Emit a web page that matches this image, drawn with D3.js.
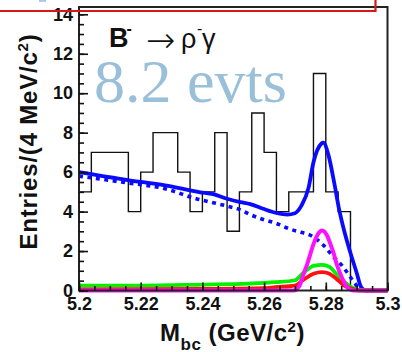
<!DOCTYPE html>
<html>
<head>
<meta charset="utf-8">
<script src="https://cdn.jsdelivr.net/npm/d3@7/dist/d3.min.js"></script>
<style>
html,body{margin:0;padding:0;background:#fff;}
svg{display:block;}
</style>
</head>
<body>
<svg id="c" width="402" height="352"></svg>
<script>
// ---------------- data ----------------
const binStart = 5.2;
const binWidth = 0.004;
const histCounts = [5,7,7,7,4,6,8,8,6,4,5,8,3,5,9,7,4,5,5,11,5,4,0,0,0];

const totalFit = [
  [5.2000,6.00],[5.2158,5.60],[5.2279,5.33],[5.2393,4.98],[5.2435,4.88],
  [5.2480,4.65],[5.2523,4.48],[5.2555,4.38],[5.2597,4.14],[5.2640,3.93],
  [5.2675,3.85],[5.2700,3.92],[5.2721,4.30],[5.2744,5.20],[5.2760,6.50],
  [5.2786,7.45],[5.2792,7.50],[5.2808,6.90],[5.2828,5.40],[5.2842,4.20],
  [5.2860,3.00],[5.2880,1.90],[5.2900,0.90],[5.2915,0.15],[5.2930,0.00],
  [5.3000,0.00]
];
const bkgFit = [
  [5.2000,5.80],[5.2158,5.45],[5.2279,5.16],[5.2380,4.65],[5.2435,4.45],
  [5.2480,4.28],[5.2523,4.09],[5.2555,3.85],[5.2597,3.60],[5.2640,3.40],
  [5.2682,3.12],[5.2720,2.95],[5.2750,2.80],[5.2792,2.30],[5.2825,1.70],
  [5.2857,1.18],[5.2880,0.67],[5.2903,0.17],[5.2910,0.00]
];
const greenFit = [
  [5.2000,0.25],[5.2200,0.25],[5.2400,0.30],[5.2550,0.35],[5.2636,0.42],
  [5.2700,0.52],[5.2728,0.90],[5.2760,1.25],[5.2788,1.30],[5.2812,1.20],
  [5.2834,0.85],[5.2860,0.44],[5.2885,0.15],[5.2910,0.03],[5.3000,0.00]
];
const redFit = [
  [5.2000,0.05],[5.2400,0.08],[5.2600,0.12],[5.2636,0.17],[5.2700,0.25],
  [5.2728,0.55],[5.2760,0.85],[5.2788,0.93],[5.2812,0.85],[5.2834,0.60],
  [5.2860,0.25],[5.2885,0.08],[5.2910,0.00],[5.3000,0.00]
];
const signalFit = [
  [5.2000,0.00],[5.2695,0.00],[5.2715,0.25],[5.2728,0.85],[5.2740,1.35],
  [5.2750,1.86],[5.2760,2.35],[5.2772,2.79],[5.2788,3.04],[5.2804,2.79],
  [5.2815,2.35],[5.2826,1.86],[5.2835,1.35],[5.2847,0.85],[5.2860,0.40],
  [5.2869,0.17],[5.2880,0.05],[5.2890,0.00],[5.3000,0.00]
];

const xTickValues = [5.2,5.22,5.24,5.26,5.28,5.3];
const xTickLabels = ["5.2","5.22","5.24","5.26","5.28","5.3"];
const yTickValues = [0,2,4,6,8,10,12,14];
const yTickLabels = ["0","2","4","6","8","10","12","14"];

// ---------------- layout ----------------
const SANS = "'Liberation Sans', Arial, Helvetica, sans-serif";
const svg = d3.select("#c");
const L = 79, R = 387.5, T = 7, B = 290.5;
const x = d3.scaleLinear().domain([5.2,5.3]).range([L,R]);
const y = d3.scaleLinear().domain([0,14.37]).range([B,T]);

// histogram
const histPts = histCounts.map((c,i)=>[binStart+i*binWidth,c]);
histPts.unshift([binStart,0]);
histPts.push([binStart+histCounts.length*binWidth, histCounts[histCounts.length-1]]);
const stepLine = d3.line().x(d=>x(d[0])).y(d=>y(d[1])).curve(d3.curveStepAfter);
svg.append("path").attr("d",stepLine(histPts))
  .attr("fill","none").attr("stroke","#111").attr("stroke-width",1.4);

// fits
const fitLine = d3.line().x(d=>x(d[0])).y(d=>y(d[1])).curve(d3.curveMonotoneX);
svg.append("path").attr("d",fitLine(bkgFit)).attr("fill","none")
  .attr("stroke","#0a0aff").attr("stroke-width",3.6).attr("stroke-dasharray","4,4.5");
svg.append("path").attr("d",fitLine(totalFit)).attr("fill","none")
  .attr("stroke","#0a0aff").attr("stroke-width",3.8).attr("stroke-linejoin","round");
svg.append("path").attr("d",fitLine(greenFit)).attr("fill","none")
  .attr("stroke","#00f000").attr("stroke-width",3.8);
svg.append("path").attr("d",fitLine(redFit)).attr("fill","none")
  .attr("stroke","#ff1010").attr("stroke-width",3.8);
svg.append("path").attr("d",fitLine(signalFit)).attr("fill","none")
  .attr("stroke","#ff10ff").attr("stroke-width",4);

// frame
svg.append("rect").attr("x",L).attr("y",T).attr("width",R-L).attr("height",B-T)
  .attr("fill","none").attr("stroke","#222").attr("stroke-width",2);

// y axis
const yAxis = svg.append("g").attr("transform",`translate(${L},0)`)
  .call(d3.axisLeft(y).tickValues(yTickValues).tickFormat((d,i)=>yTickLabels[i])
    .tickSizeInner(-9).tickSizeOuter(0).tickPadding(6));
const yMinor = svg.append("g").attr("transform",`translate(${L},0)`)
  .call(d3.axisLeft(y).tickValues(d3.range(0,14.01,0.5)).tickFormat("")
    .tickSizeInner(-5).tickSizeOuter(0));
// x axis
const xAxis = svg.append("g").attr("transform",`translate(0,${B})`)
  .call(d3.axisBottom(x).tickValues(xTickValues).tickFormat((d,i)=>xTickLabels[i])
    .tickSizeInner(-8).tickSizeOuter(0).tickPadding(6.7));
const xMinor = svg.append("g").attr("transform",`translate(0,${B})`)
  .call(d3.axisBottom(x).tickValues(d3.range(5.2,5.3001,0.005)).tickFormat("")
    .tickSizeInner(-4.5).tickSizeOuter(0));
[yAxis,yMinor,xAxis,xMinor].forEach(g=>{
  g.select(".domain").remove();
  g.selectAll(".tick line").attr("stroke","#111").attr("stroke-width",1.6);
  g.selectAll("text").style("font-size","18px").style("font-weight","bold")
    .style("fill","#111").style("font-family",SANS);
});

// axis titles
const yt = svg.append("text").attr("transform","translate(37.3,141.5) rotate(-90)")
  .attr("text-anchor","middle")
  .style("font-family",SANS).style("font-size","24px").style("font-weight","bold")
  .style("letter-spacing","0.8px").style("fill","#111");
yt.append("tspan").text("Entries/(4 MeV/c");
yt.append("tspan").style("font-size","15px").attr("dy",-9).text("2");
yt.append("tspan").attr("dy",9).text(")");

const xt = svg.append("text").attr("x",232.5).attr("y",340.5)
  .attr("text-anchor","middle")
  .style("font-family",SANS).style("font-size","24px").style("font-weight","bold")
  .style("letter-spacing","0.5px").style("fill","#111");
xt.append("tspan").text("M");
xt.append("tspan").style("font-size","17px").attr("dy",9.5).text("bc");
xt.append("tspan").attr("dy",-9.5).text(" (GeV/c");
xt.append("tspan").style("font-size","15px").attr("dy",-9).text("2");
xt.append("tspan").attr("dy",9).text(")");

// decay label
const lab = svg.append("g").style("fill","#111").style("font-family",SANS);
lab.append("text").attr("x",109).attr("y",47).style("font-size","27px").style("font-weight","bold").text("B");
lab.append("text").attr("x",126.5).attr("y",34).style("font-size","16px").style("font-weight","bold").text("-");
lab.append("text").attr("x",146).attr("y",51.5).style("font-family","'DejaVu Sans', sans-serif")
  .style("font-size","35px").style("font-weight","200").text("→");
lab.append("text").attr("x",181).attr("y",48).style("font-size","27px").text("ρ");
lab.append("text").attr("x",197).attr("y",34).style("font-size","16px").text("-");
lab.append("text").attr("x",202).attr("y",48).style("font-size","27px").text("γ");

// overlay text
svg.append("text").attr("x",94).attr("y",101.5)
  .style("font-family","'Liberation Serif', 'Times New Roman', serif")
  .style("font-size","62px").style("fill","#9ac0d9").text("8.2 evts");

// red annotation box and stray mark
svg.append("path").attr("d",`M0,11 H375.5 V-2`).attr("fill","none")
  .attr("stroke","#d81818").attr("stroke-width",2.2);
svg.append("rect").attr("x",39).attr("y",0).attr("width",7).attr("height",1.8)
  .attr("fill","#a8c4f2");
</script>
</body>
</html>
